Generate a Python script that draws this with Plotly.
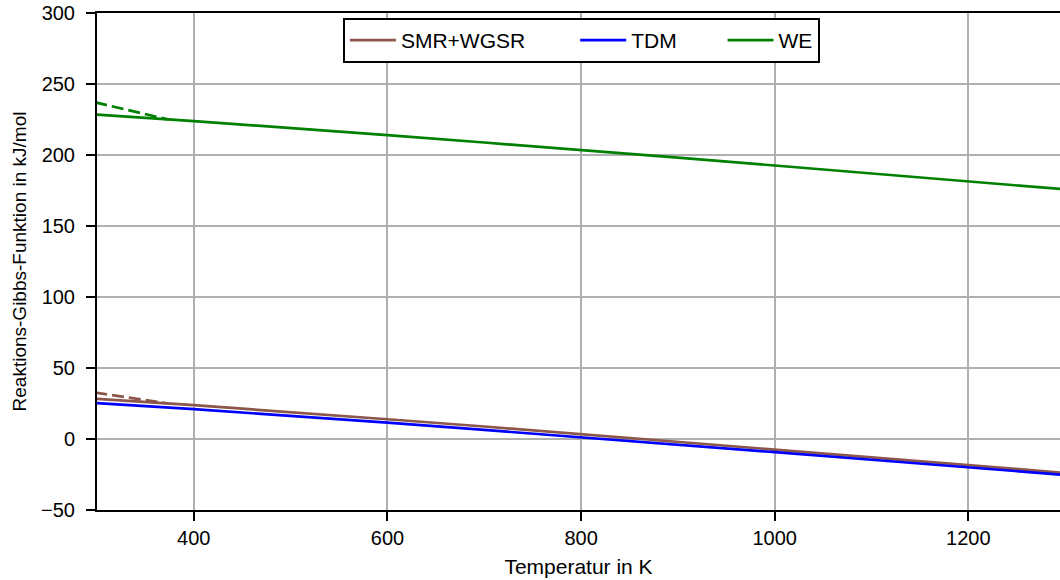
import plotly.graph_objects as go

# Temperatures in K
T = [298.15, 300, 400, 500, 600, 700, 800, 900, 1000, 1100, 1200, 1300]
# Reaction Gibbs energies in kJ/mol (per mol H2) - gas-phase water
smr_wgsr = [28.4, 28.3, 23.8, 19.0, 13.9, 8.8, 3.5, -1.9, -7.4, -12.9, -18.4, -23.9]
tdm = [25.4, 25.3, 21.0, 16.4, 11.5, 6.4, 1.3, -4.0, -9.3, -14.6, -19.9, -25.3]
we = [228.6, 228.5, 223.9, 219.1, 214.0, 208.8, 203.6, 198.1, 192.6, 187.0, 181.4, 175.8]

# Liquid-water variants (dashed), up to the boiling point
T_liq = [298.15, 320, 340, 360, 373.15]
smr_wgsr_liq = [32.7, 30.5, 28.4, 26.3, 25.0]
we_liq = [237.1, 233.6, 230.3, 227.1, 225.1]

series_names = ["SMR+WGSR", "TDM", "WE"]
x_ticks = [400, 600, 800, 1000, 1200]
y_ticks = [-50, 0, 50, 100, 150, 200, 250, 300]

BROWN = "#8c564b"
BLUE = "#0000ff"
GREEN = "#008000"
LW = 2.7
DASH = "12px,5px"
NB = "\u00a0"
# padding after legend labels to mimic wide matplotlib column spacing
pads = [NB * 7 + "\u2009", NB * 7, ""]

fig = go.Figure()
fig.add_trace(go.Scatter(x=T, y=smr_wgsr, mode="lines", name=series_names[0] + pads[0],
                         line=dict(color=BROWN, width=LW)))
fig.add_trace(go.Scatter(x=T, y=tdm, mode="lines", name=series_names[1] + pads[1],
                         line=dict(color=BLUE, width=LW)))
fig.add_trace(go.Scatter(x=T, y=we, mode="lines", name=series_names[2] + pads[2],
                         line=dict(color=GREEN, width=LW)))
fig.add_trace(go.Scatter(x=T_liq, y=smr_wgsr_liq, mode="lines", showlegend=False,
                         line=dict(color=BROWN, width=LW, dash=DASH)))
fig.add_trace(go.Scatter(x=T_liq, y=we_liq, mode="lines", showlegend=False,
                         line=dict(color=GREEN, width=LW, dash=DASH)))

FONT = "Liberation Sans, Arial, sans-serif"

fig.update_layout(
    width=1060, height=580,
    margin=dict(l=97, r=0, t=13, b=70),
    paper_bgcolor="white", plot_bgcolor="white",
    font=dict(family=FONT, size=20, color="black"),
    showlegend=True,
    legend=dict(orientation="h", x=0.503, xanchor="center", y=0.99, yanchor="top",
                bgcolor="white", bordercolor="black", borderwidth=2,
                itemwidth=46,
                font=dict(size=21, family=FONT)),
    xaxis=dict(range=[300, 1294.7], tickvals=x_ticks, ticks="outside", ticklen=9,
               tickwidth=1.5, tickcolor="black", showline=True, linecolor="black",
               linewidth=2, mirror=True, showgrid=True, gridcolor="#b0b0b0",
               gridwidth=1.5, zeroline=False, tickfont=dict(size=20),
               title=dict(text="Temperatur in K", font=dict(size=21), standoff=11)),
    yaxis=dict(range=[-50, 300], tickvals=y_ticks, ticks="outside", ticklen=9,
               tickwidth=1.5, tickcolor="black", showline=True, linecolor="black",
               linewidth=2, mirror=False, showgrid=True, gridcolor="#b0b0b0",
               gridwidth=1.5, zeroline=False, tickfont=dict(size=20),
               ticklabelstandoff=7,
               title=dict(text="Reaktions-Gibbs-Funktion in kJ/mol", font=dict(size=19),
                          standoff=9)),
)

fig.write_html("out.html")
